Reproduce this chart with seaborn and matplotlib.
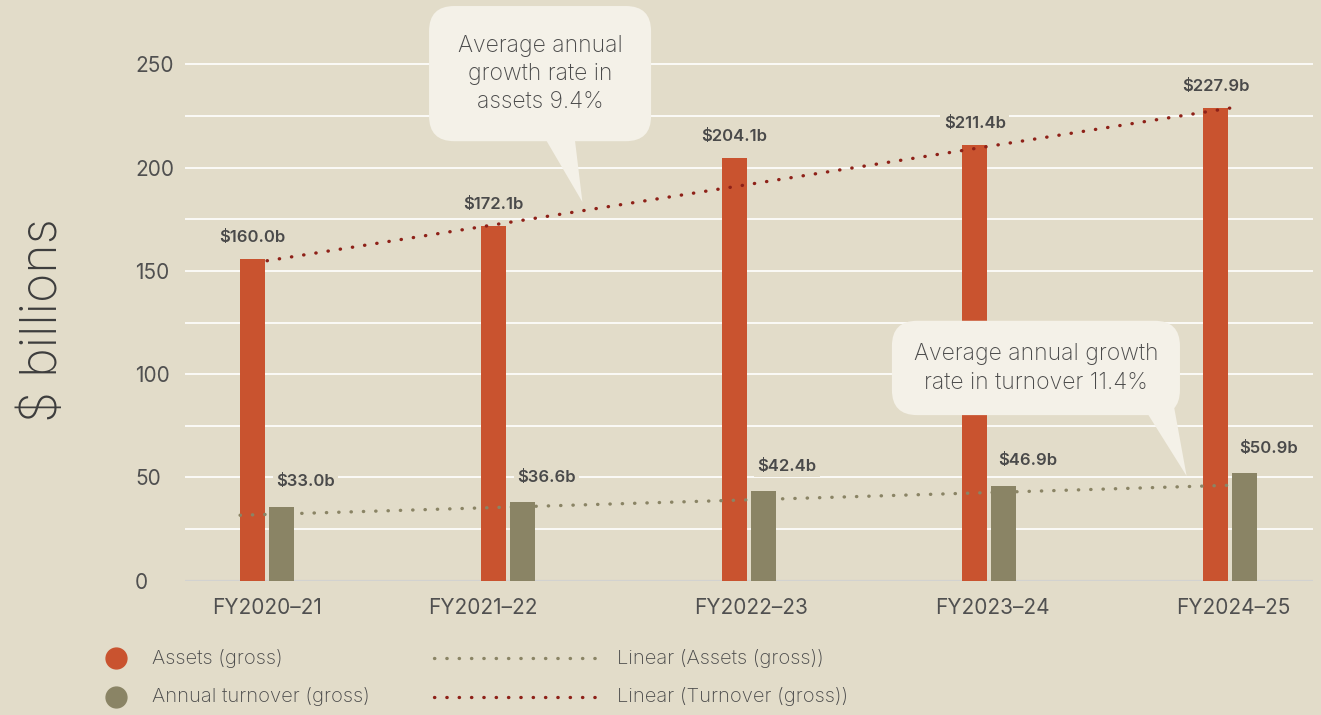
import numpy as np
import pandas as pd
import matplotlib.pyplot as plt
import seaborn as sns
from matplotlib.lines import Line2D
from matplotlib.ticker import FixedLocator

# ---- data ----
years = ['FY2020–21', 'FY2021–22', 'FY2022–23', 'FY2023–24', 'FY2024–25']
assets = [155.7, 171.7, 204.6, 210.9, 228.7]
turnover = [35.7, 38.1, 43.4, 46.0, 52.1]
asset_labels = ['$160.0b', '$172.1b', '$204.1b', '$211.4b', '$227.9b']
turnover_labels = ['$33.0b', '$36.6b', '$42.4b', '$46.9b', '$50.9b']
assets_trend = [154.9, 228.8]      # dotted red line, first -> last year
turnover_trend = [31.7, 46.2]      # dotted grey line, first -> last year
y_ticks = [0, 50, 100, 150, 200, 250]
grid_vals = [25, 50, 75, 100, 125, 150, 175, 200, 225, 250]
series_names = ['Assets (gross)', 'Annual turnover (gross)']
trend_names = ['Linear (Assets (gross))', 'Linear (Turnover (gross))']

BG = '#e2dcc9'
RED = '#c9532f'
OLIVE = '#8a8465'
DARK_RED = '#8e2118'
BUBBLE = '#f4f1e8'
TEXT = '#4a4a4a'

sns.set_theme(style='white', rc={'axes.facecolor': BG, 'figure.facecolor': BG})
plt.rcParams['font.family'] = ['Inter', 'DejaVu Sans']

W, H = 1321, 715
def fx(px):
    return px / W
def fy(py):
    return 1 - py / H

df = pd.DataFrame({
    'year': years * 2,
    'value': assets + turnover,
    'series': [series_names[0]] * len(years) + [series_names[1]] * len(years),
})

fig = plt.figure(figsize=(13.21, 7.15), dpi=100)
ax = fig.add_axes([fx(185), fy(580.7), fx(1313 - 185), (580.7 - 23) / H])

sns.barplot(data=df, x='year', y='value', hue='series', palette=[RED, OLIVE],
            width=0.241, gap=0.138, saturation=1, legend=False, ax=ax,
            linewidth=0, edgecolor='none')
for bar in ax.containers[0]:
    bar.set_zorder(2)
for bar in ax.containers[1]:
    bar.set_zorder(4)

ax.set_xlim(-0.341, 4.345)
ax.set_ylim(0, 270)
ax.yaxis.set_major_locator(FixedLocator(y_ticks))
ax.grid(False)
for v in grid_vals:
    ax.axhline(v, color='white', lw=1.2, zorder=1)
ax.axhline(0, color='#d2d2d0', lw=1.6, zorder=1.5)
sns.despine(ax=ax, left=True, bottom=True)
ax.tick_params(axis='both', which='both', length=0)
ax.tick_params(axis='y', labelsize=15, labelcolor='#505050', pad=36)
for lab in ax.get_yticklabels():
    lab.set_horizontalalignment('left')
ax.set_xticks(range(len(years)))
ax.set_xticklabels([])
ax.set_xlabel('')
ax.set_ylabel('$ billions', fontsize=36, color='#3d3d3d', fontweight='light')
ax.yaxis.set_label_coords(-0.105, 0.467)

# category labels (slightly uneven in the original)
tick_dx = [0, -25, 3, 3, 3]
for i, (name, dx) in enumerate(zip(years, tick_dx)):
    ax.annotate(name, (i, 0), xytext=(dx, -27), textcoords='offset pixels',
                ha='center', va='center', fontsize=15, color='#505050',
                annotation_clip=False)

# trend lines
last = len(years) - 1
ax.plot([0, last], assets_trend, color=DARK_RED, lw=2.4,
        ls=(0, (0.1, 3.6)), dash_capstyle='round', zorder=5)
x_start = ax.containers[0][0].get_x()
ax.plot([x_start, last], turnover_trend, color=OLIVE, lw=2.4,
        ls=(0, (0.1, 3.6)), dash_capstyle='round', zorder=3)

# value labels
lab_box = dict(boxstyle='square,pad=0.2', fc=BG, ec='none')
for bar, h, lab in zip(ax.containers[0], assets, asset_labels):
    cx = bar.get_x() + bar.get_width() / 2
    ax.annotate(lab, (cx, h), xytext=(0, 22), textcoords='offset pixels',
                ha='center', va='center', fontsize=12, fontweight='semibold',
                color=TEXT, bbox=lab_box, zorder=6)
for bar, h, lab in zip(ax.containers[1], turnover, turnover_labels):
    cx = bar.get_x() + bar.get_width() / 2
    ax.annotate(lab, (cx, h), xytext=(24, 25), textcoords='offset pixels',
                ha='center', va='center', fontsize=12, fontweight='semibold',
                color=TEXT, bbox=lab_box, zorder=6)

# speech bubbles
ax.annotate('Average annual\ngrowth rate in\nassets 9.4%',
            xy=(1.31, 183.3), xytext=(1.134, 245.5),
            ha='center', va='center', multialignment='center',
            fontsize=16.5, color=TEXT, fontweight='light', linespacing=1.35,
            bbox=dict(boxstyle='round,pad=1.25,rounding_size=1.1', fc=BUBBLE, ec='none'),
            arrowprops=dict(arrowstyle='wedge,tail_width=1.6,shrink_factor=0.5',
                            fc=BUBBLE, ec='none', mutation_scale=20,
                            patchA=None, shrinkA=0, shrinkB=0, relpos=(0.55, 0.15)),
            annotation_clip=False, zorder=8)
ax.annotate('Average annual growth\nrate in turnover 11.4%',
            xy=(3.82, 50.7), xytext=(3.194, 103.0),
            ha='center', va='center', multialignment='center',
            fontsize=16.5, color=TEXT, fontweight='light', linespacing=1.4,
            bbox=dict(boxstyle='round,pad=0.95,rounding_size=1.1', fc=BUBBLE, ec='none'),
            arrowprops=dict(arrowstyle='wedge,tail_width=1.37,shrink_factor=0.5',
                            fc=BUBBLE, ec='none', mutation_scale=20,
                            patchA=None, shrinkA=0, shrinkB=0, relpos=(0.97, 0.19)),
            annotation_clip=False, zorder=8)

# legend, drawn by hand
row_y = [658, 697]
for y, col, name in zip(row_y, [RED, OLIVE], series_names):
    fig.add_artist(Line2D([fx(115.5)], [fy(y)], marker='o', ms=15, color=col,
                          ls='none', transform=fig.transFigure))
    fig.text(fx(152), fy(y), name, ha='left', va='center', fontsize=14.5,
             color=TEXT, fontweight='light')
for y, col, name in zip(row_y, [OLIVE, DARK_RED], trend_names):
    fig.add_artist(Line2D([fx(434), fx(597)], [fy(y), fy(y)], color=col, lw=2.4,
                          ls=(0, (0.1, 3.6)), dash_capstyle='round',
                          transform=fig.transFigure))
    fig.text(fx(617), fy(y), name, ha='left', va='center', fontsize=14.5,
             color=TEXT, fontweight='light')

fig.savefig('out.png', dpi=100, facecolor=BG)
